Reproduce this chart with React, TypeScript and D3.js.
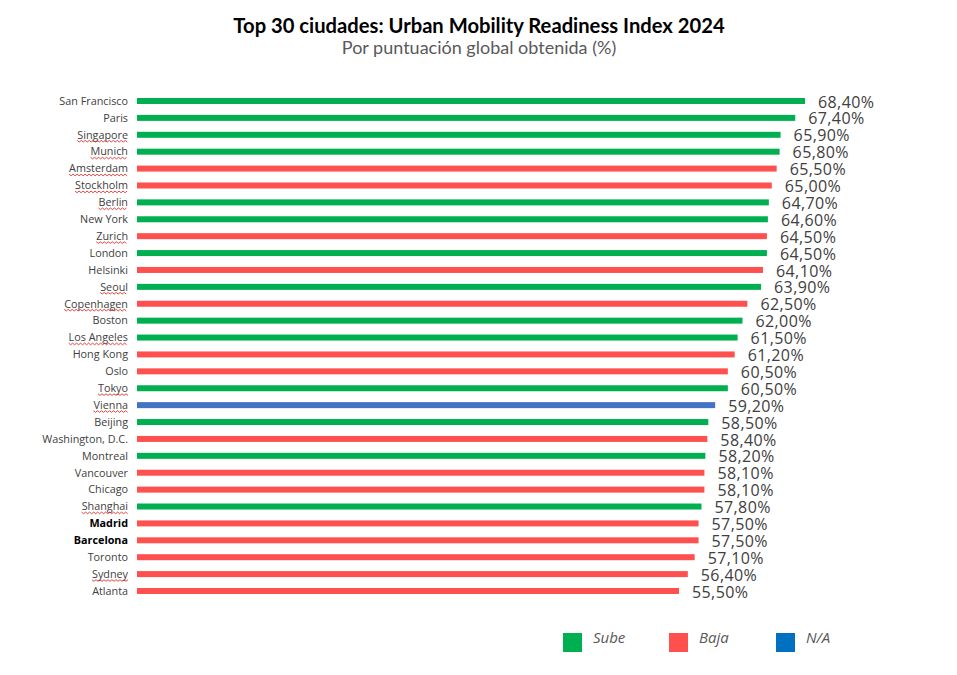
import { useEffect, useRef } from 'react';
import * as d3 from 'd3';

const cities = [
  'San Francisco', 'Paris', 'Singapore', 'Munich', 'Amsterdam', 'Stockholm', 'Berlin', 'New York',
  'Zurich', 'London', 'Helsinki', 'Seoul', 'Copenhagen', 'Boston', 'Los Angeles', 'Hong Kong',
  'Oslo', 'Tokyo', 'Vienna', 'Beijing', 'Washington, D.C.', 'Montreal', 'Vancouver', 'Chicago',
  'Shanghai', 'Madrid', 'Barcelona', 'Toronto', 'Sydney', 'Atlanta',
];
const scores = [
  68.4, 67.4, 65.9, 65.8, 65.5, 65.0, 64.7, 64.6, 64.5, 64.5, 64.1, 63.9, 62.5, 62.0, 61.5, 61.2,
  60.5, 60.5, 59.2, 58.5, 58.4, 58.2, 58.1, 58.1, 57.8, 57.5, 57.5, 57.1, 56.4, 55.5,
];
// S = sube, B = baja, N = n/a
const trend = [
  'S', 'S', 'S', 'S', 'B', 'B', 'S', 'S', 'B', 'S', 'B', 'S', 'B', 'S', 'S', 'B',
  'B', 'S', 'N', 'S', 'B', 'S', 'B', 'B', 'S', 'B', 'B', 'B', 'B', 'B',
];
const boldCities = ['Madrid', 'Barcelona'];
const spellFlagged = [
  'Singapore', 'Munich', 'Amsterdam', 'Stockholm', 'Berlin', 'Zurich', 'Seoul', 'Copenhagen',
  'Los Angeles', 'Tokyo', 'Vienna', 'Shanghai', 'Sydney',
];
const legendKeys = ['S', 'B', 'N'];
const legendLabels = ['Sube', 'Baja', 'N/A'];

const barColor: Record<string, string> = { S: '#00B050', B: '#FF5050', N: '#4472C4' };
const legendColor: Record<string, string> = { S: '#00B050', B: '#FF5050', N: '#0070C0' };

const W = 957;
const H = 675;

export default function App() {
  const svgRef = useRef<SVGSVGElement>(null);

  useEffect(() => {
    if (!svgRef.current) return;
    const svg = d3.select(svgRef.current);
    svg.selectAll('*').remove();

    const x = d3.scaleLinear().domain([0, 68.4]).range([137, 805]);
    const y = d3.scalePoint<string>().domain(cities).range([101, 591]);
    const rows = cities.map((c, i) => ({ city: c, v: scores[i], t: trend[i] }));
    const font = '"Open Sans", "Noto Sans", sans-serif';

    svg.append('rect').attr('width', W).attr('height', H).attr('fill', '#fff');

    svg.append('text')
      .attr('x', 479).attr('y', 33)
      .attr('text-anchor', 'middle')
      .attr('font-family', 'Lato, "Open Sans", sans-serif')
      .attr('font-weight', 700).attr('font-size', 20.2).attr('fill', '#000')
      .text('Top 30 ciudades: Urban Mobility Readiness Index 2024');

    svg.append('text')
      .attr('x', 479).attr('y', 54)
      .attr('text-anchor', 'middle')
      .attr('font-family', 'Lato, "Open Sans", sans-serif')
      .attr('font-size', 18).attr('fill', '#595959')
      .text('Por puntuación global obtenida (%)');

    const barH = 6;
    svg.append('g').selectAll('rect')
      .data(rows)
      .join('rect')
      .attr('x', x(0))
      .attr('y', (d) => (y(d.city) ?? 0) - barH / 2)
      .attr('width', (d) => x(d.v) - x(0))
      .attr('height', barH)
      .attr('fill', (d) => barColor[d.t]);

    const labels = svg.append('g').selectAll('text')
      .data(rows)
      .join('text')
      .attr('x', 128)
      .attr('y', (d) => (y(d.city) ?? 0))
      .attr('dy', '0.35em')
      .attr('text-anchor', 'end')
      .attr('font-family', font)
      .attr('font-size', 10.8)
      .attr('font-weight', (d) => (boldCities.includes(d.city) ? 700 : 400))
      .attr('fill', (d) => (boldCities.includes(d.city) ? '#000' : '#404040'))
      .text((d) => d.city);

    // red wavy spell-check underline
    labels.each(function (d) {
      if (!spellFlagged.includes(d.city)) return;
      const len = (this as SVGTextElement).getComputedTextLength();
      const x1 = 128 - len;
      const yy = (y(d.city) ?? 0) + 6;
      const pts: [number, number][] = [];
      for (let px = x1, k = 0; px <= 128; px += 2, k++) pts.push([px, yy + (k % 2 ? 1.2 : -0.4)]);
      svg.append('path')
        .attr('d', d3.line()(pts))
        .attr('fill', 'none')
        .attr('stroke', '#E0302A')
        .attr('stroke-width', 0.9);
    });

    svg.append('g').selectAll('text')
      .data(rows)
      .join('text')
      .attr('x', (d) => x(d.v) + 13)
      .attr('y', (d) => (y(d.city) ?? 0) + 1)
      .attr('dy', '0.35em')
      .attr('font-family', font)
      .attr('font-size', 16)
      .attr('letter-spacing', 0.4)
      .attr('fill', '#404040')
      .text((d) => d3.format('.2f')(d.v).replace('.', ',') + '%');

    const lx = [563, 669, 776];
    legendKeys.forEach((k, i) => {
      svg.append('rect')
        .attr('x', lx[i]).attr('y', 633)
        .attr('width', 19).attr('height', 19)
        .attr('fill', legendColor[k]);
      svg.append('text')
        .attr('x', lx[i] + 30).attr('y', 638)
        .attr('dy', '0.35em')
        .attr('font-family', font)
        .attr('font-style', 'italic')
        .attr('font-size', 15)
        .attr('fill', '#595959')
        .text(legendLabels[i]);
    });
  }, []);

  return (
    <div style={{ position: 'absolute', left: 0, top: 0 }}>
      <svg ref={svgRef} width={W} height={H} style={{ display: 'block' }} />
    </div>
  );
}
